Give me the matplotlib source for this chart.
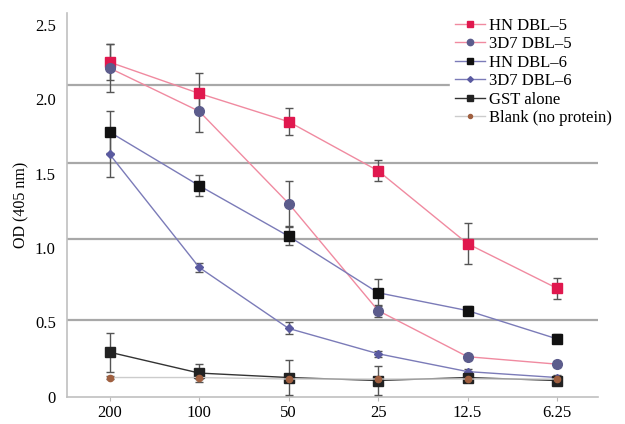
import numpy as np
import matplotlib.pyplot as plt

plt.rcParams['font.family'] = ['Liberation Serif', 'DejaVu Serif']

conc = ['200', '100', '50', '25', '12.5', '6.25']

hn5 = [2.25, 2.04, 1.85, 1.52, 1.03, 0.73]
hn5_err = [0.12, 0.14, 0.09, 0.07, 0.14, 0.07]
d5 = [2.21, 1.92, 1.30, 0.58, 0.27, 0.22]
d5_err = [0.16, 0.14, 0.15, 0.04, 0.02, 0.02]
hn6 = [1.78, 1.42, 1.08, 0.70, 0.58, 0.39]
hn6_err = [0.14, 0.07, 0.06, 0.09, 0.03, 0.03]
d6 = [1.63, 0.87, 0.46, 0.29, 0.17, 0.13]
d6_err = [0.15, 0.03, 0.04, 0.02, 0.02, 0.02]
gst = [0.30, 0.16, 0.13, 0.11, 0.13, 0.11]
gst_err = [0.13, 0.06, 0.12, 0.10, 0.03, 0.03]
blank = [0.13, 0.13, 0.12, 0.12, 0.12, 0.12]
blank_err = [0.01, 0.01, 0.01, 0.01, 0.01, 0.01]

# gridlines sit a little off the tick labels in the original
grid_vals = [0.52, 1.06, 1.57, 2.10]

x = np.arange(len(conc))

fig = plt.figure(figsize=(6.25, 4.24), dpi=100)
ax = fig.add_axes([0.107, 0.064, 0.85, 0.905])

for g in grid_vals:
    ax.axhline(g, color='#a8a8a8', lw=1.6, zorder=0)

series = [
    ('HN DBL\u20135', hn5, hn5_err, '#f08aa0', 's', '#e0184e', 7),
    ('3D7 DBL\u20135', d5, d5_err, '#f08aa0', 'o', '#5c5c8c', 7),
    ('HN DBL\u20136', hn6, hn6_err, '#7b7bb8', 's', '#111111', 7),
    ('3D7 DBL\u20136', d6, d6_err, '#7b7bb8', 'D', '#5a5aa0', 4.5),
    ('GST alone', gst, gst_err, '#333333', 's', '#222222', 7),
    ('Blank (no protein)', blank, blank_err, '#cccccc', 'o', '#a06040', 4.5),
]

handles = []
for name, y, err, lc, mk, mc, ms in series:
    ax.errorbar(x, y, yerr=err, color=lc, lw=1.0, marker=mk, ms=ms,
                mfc=mc, mec=mc, ecolor='#555555', elinewidth=1.0,
                capsize=3, capthick=1.0, zorder=3)
    h, = ax.plot([], [], color=lc, lw=1.0, marker=mk, ms=ms * 0.65,
                 mfc=mc, mec=mc, label=name)
    handles.append(h)

ax.set_xlim(-0.48, 5.46)
ax.set_ylim(0, 2.58)
ax.set_xticks(x)
ax.set_xticklabels(conc)
ax.set_yticks([0, 0.5, 1.0, 1.5, 2.0, 2.5])
ax.set_yticklabels(['0', '0.5', '1.0', '1.5', '2.0', '2.5'])
ax.tick_params(axis='both', labelsize=12, color='#bbbbbb')
ax.tick_params(axis='y', length=0, pad=8)
ax.tick_params(axis='x', length=3, pad=3)
ax.set_ylabel('OD (405 nm)', fontsize=11.5)

for s in ['top', 'right']:
    ax.spines[s].set_visible(False)
for s in ['left', 'bottom']:
    ax.spines[s].set_color('#c0c0c0')
    ax.spines[s].set_linewidth(1.2)

leg = fig.legend(handles, [h.get_label() for h in handles], loc='upper right',
                 bbox_to_anchor=(1.0, 0.99), frameon=True, fontsize=12,
                 handlelength=1.8, handletextpad=0.2, labelspacing=0.15,
                 borderpad=0.3)
leg.get_frame().set_edgecolor('white')
leg.get_frame().set_facecolor('white')
leg.get_frame().set_alpha(1)

fig.savefig('out.png', dpi=100)
